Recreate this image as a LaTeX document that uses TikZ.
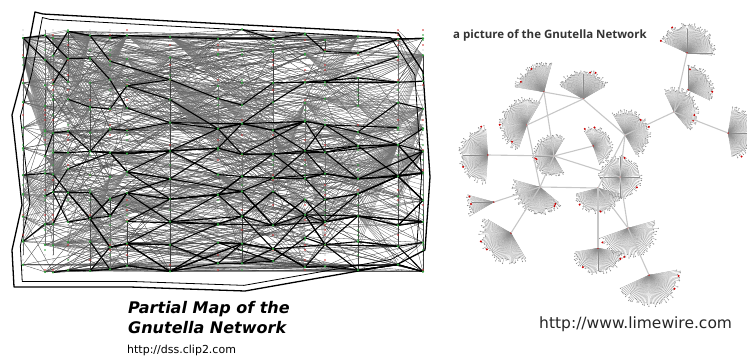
\documentclass[tikz,border=0pt]{standalone}
\usepackage{fontspec}
\newfontfamily\dejavu{DejaVu Sans}[ItalicFont={DejaVu Sans Oblique},BoldItalicFont={DejaVu Sans Bold Oblique}]
\newfontfamily\opsans{Open Sans}
\usetikzlibrary{calc}
\definecolor{nodegreen}{HTML}{2E9E3A}
\definecolor{nodered}{HTML}{D03030}

% one dandelion fan: name, x, y, first angle, last angle, radius, spokes
\newcommand\gfan[7]{%
  \coordinate (#1) at (#2,#3);
  \foreach \k in {0,...,#7}{
    \pgfmathsetmacro\ang{-(#4+(#5-#4)/#7*\k)}
    \pgfmathsetmacro\rr{#6*(0.8+0.2*rnd)}
    \draw[spoke] (#1) -- ++(\ang:\rr) coordinate (#1-\k);
    \fill[leaf] (#1-\k) circle (0.6);
  }
  \pgfmathrandominteger{\ka}{1}{#7}
  \pgfmathrandominteger{\kb}{1}{#7}
  \fill[hot] (#1-\ka) circle (1.1) (#1-\kb) circle (1.1) (#1) circle (0.9);
}

\begin{document}
\begin{tikzpicture}[x=1pt,y=-1pt,
  wire/.style={draw=black!75,line width=0.3pt},
  trunk/.style={draw=black,line width=1.1pt},
  rim/.style={draw=black,line width=1.3pt,line join=round},
  fanline/.style={draw=black!55,line width=0.3pt},
  spoke/.style={draw=black!45,line width=0.25pt},
  leaf/.style={fill=black!45},
  hot/.style={fill=red!80!black},
  link/.style={draw=black!22,line width=1.1pt},
  hubdot/.style={fill=nodegreen},
  reddot/.style={fill=nodered},
  captext/.style={anchor=base west,inner sep=0,font=\dejavu\bfseries\itshape\fontsize{16}{20}\selectfont}]
\useasboundingbox (0,0) rectangle (747,357);
\clip (0,0) rectangle (747,357);
\pgfmathsetseed{11}

\foreach \x [count=\i from 0] in {23,45,53,68,90,110,127,170,218,242,273,305,325,358,398,423}{
  \foreach \j in {0,...,10}{
    \pgfmathsetmacro\yy{34+23.3*\j+6*rand}
    \coordinate (h\i-\j) at (\x,\yy);
  }
  \foreach \m in {0,...,48}
    \coordinate (s\i-\m) at (\x,30+5*\m);
}

\foreach \px/\py [count=\k] in {43/14,170/21,398/33,423/72,430/177,425/250,398/264,245/291,130/287,14/287,12/250,22/205,12/115,24/70,35/12}
  \coordinate (b\k) at (\px,\py);
\coordinate (mid) at (220,150);

\foreach \e in {1,...,700}{
  \pgfmathrandominteger{\a}{0}{15}
  \pgfmathrandominteger{\b}{0}{15}
  \pgfmathrandominteger{\r}{0}{10}
  \pgfmathsetmacro\s{int(max(0,min(10,\r+round(4.5*rand))))}
  \draw[wire] (h\a-\r) -- (h\b-\s);
}

\foreach \t in {1,...,90}{
  \pgfmathrandominteger{\i}{0}{15}
  \pgfmathsetmacro\a{int(max(0,min(15,\i+round(4*rand))))}
  \pgfmathrandominteger{\m}{0}{36}
  \pgfmathsetmacro\r{int(max(0,min(10,(5*\m)/23.3+round(2*rand))))}
  \foreach \q in {0,...,12}{
    \pgfmathtruncatemacro\mm{\m+\q}
    \draw[fanline] (h\a-\r) -- (s\i-\mm);
  }
}

\foreach \c in {1,...,24}{
  \pgfmathrandominteger{\r}{0}{10}
  \pgfmathrandominteger{\st}{0}{6}
  \xdef\cur{\r}
  \foreach \u in {0,...,14}{
    \pgfmathtruncatemacro\nu{min(15,\u+1+round(0.6*rnd))}
    \pgfmathtruncatemacro\nx{max(0,min(10,\cur+round(0.9*rand)))}
    \ifnum\u<\st\relax\else
      \draw[trunk] (h\u-\cur) -- (h\nu-\nx);
    \fi
    \xdef\cur{\nx}
  }
}

\draw[rim] (b1) \foreach \k in {2,...,15}{-- (b\k)} -- cycle;
\draw[rim,line width=0.8pt] ($(b1)!0.04!(mid)$) \foreach \k in {2,...,15}{-- ($(b\k)!0.04!(mid)$)} -- cycle;

\foreach \i in {0,...,15}{
  \foreach \m in {0,...,48}{
    \pgfmathrandominteger{\c}{0}{6}
    \ifnum\c=0 \fill[reddot] (s\i-\m) circle (0.9);
    \else\ifnum\c=1 \fill[hubdot] (s\i-\m) circle (0.9);
    \else \fill[black] (s\i-\m) circle (0.45);\fi\fi
  }
  \foreach \j in {0,...,10}
    \fill[hubdot] (h\i-\j) circle (1.2);
}

\gfan{f1}{687}{53}{-5}{155}{30}{64}
\gfan{f2}{688}{90}{-25}{90}{26}{44}
\gfan{f3}{674}{112}{-50}{115}{25}{56}
\gfan{f4}{728}{133}{-80}{80}{28}{56}
\gfan{f5}{544}{92}{75}{170}{30}{48}
\gfan{f6}{583}{99}{30}{150}{30}{56}
\gfan{f7}{527}{125}{60}{250}{28}{70}
\gfan{f8}{488}{155}{95}{265}{30}{60}
\gfan{f9}{554}{156}{60}{300}{22}{70}
\gfan{f10}{593}{146}{-70}{120}{20}{44}
\gfan{f11}{625}{135}{-60}{120}{26}{64}
\gfan{f12}{540}{187}{165}{320}{28}{60}
\gfan{f13}{620}{177}{0}{360}{22}{80}
\gfan{f14}{598}{188}{195}{345}{26}{50}
\gfan{f15}{494}{202}{165}{210}{28}{18}
\gfan{f16}{511}{233}{150}{300}{32}{56}
\gfan{f17}{598}{248}{190}{350}{27}{50}
\gfan{f18}{628}{228}{200}{375}{31}{56}
\gfan{f19}{649}{275}{205}{370}{33}{56}

\foreach \u/\v in {f5/f6,f6/f11,f6/f7,f5/f9,f5/f7,f7/f12,f8/f9,f9/f10,f9/f13,f9/f12,f12/f14,f11/f13,f11/f14,f11/f3,f3/f2,f3/f1,f3/f4,f12/f15,f12/f16,f14/f17,f13/f18,f14/f18,f18/f19}
  \draw[link] (\u) -- (\v);

\node[anchor=base west,inner sep=0,text=black!80,font=\opsans\bfseries\fontsize{11.5}{13}\selectfont] (title) at (453,38) {a picture of the Gnutella Network};
\node[captext] (capA) at (128,313) {Partial Map of the};
\node[captext] (capB) at (128,333) {Gnutella Network};
\node[anchor=base west,inner sep=0,font=\dejavu\fontsize{11}{13}\selectfont] (srcA) at (127,353) {http://dss.clip2.com};
\node[anchor=base west,inner sep=0,text=black!85,font=\dejavu\fontsize{15.5}{18}\selectfont] (srcB) at (539,328) {http://www.limewire.com};
\end{tikzpicture}
\end{document}
